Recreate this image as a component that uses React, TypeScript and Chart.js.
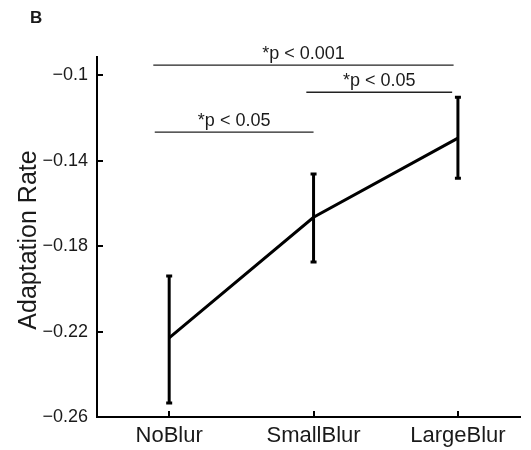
import React, { useEffect, useRef } from "react";
import { Chart, registerables } from "chart.js";

Chart.register(...registerables);

const categories = ["NoBlur", "SmallBlur", "LargeBlur"];
const categoryPositions = [0, 1, 2];
const means = [-0.223, -0.1665, -0.1295];
const errLow = [-0.2535, -0.1875, -0.1482];
const errHigh = [-0.194, -0.1463, -0.1103];
const yTicks = [-0.26, -0.22, -0.18, -0.14, -0.1];
const yTickLabels = ["\u22120.26", "\u22120.22", "\u22120.18", "\u22120.14", "\u22120.1"];

const bracketLabels = ["*p < 0.001", "*p < 0.05", "*p < 0.05"];
const bracketStart = [-0.11, 0.95, -0.1];
const bracketEnd = [1.97, 1.96, 1.0];
const bracketLevel = [-0.0953, -0.108, -0.1267];

const FONT = "'Liberation Sans', Arial, Helvetica, sans-serif";
const INK = "#1a1a1a";

const overlayPlugin = {
  id: "overlay",
  afterDatasetsDraw(chart: any) {
    const ctx = chart.ctx;
    const xs = chart.scales.x;
    const ys = chart.scales.y;
    ctx.save();
    // error bars
    ctx.strokeStyle = "#000";
    ctx.lineWidth = 3;
    ctx.lineCap = "butt";
    for (let i = 0; i < means.length; i++) {
      const px = xs.getPixelForValue(categoryPositions[i]);
      const lo = ys.getPixelForValue(errLow[i]);
      const hi = ys.getPixelForValue(errHigh[i]);
      ctx.beginPath();
      ctx.moveTo(px, lo);
      ctx.lineTo(px, hi);
      ctx.stroke();
      ctx.beginPath();
      ctx.moveTo(px - 3, lo);
      ctx.lineTo(px + 3, lo);
      ctx.moveTo(px - 3, hi);
      ctx.lineTo(px + 3, hi);
      ctx.stroke();
    }
    // brackets
    ctx.lineWidth = 1.3;
    ctx.strokeStyle = "#222";
    ctx.fillStyle = INK;
    ctx.font = `18px ${FONT}`;
    ctx.textAlign = "center";
    ctx.textBaseline = "alphabetic";
    for (let i = 0; i < bracketLabels.length; i++) {
      const x1 = xs.getPixelForValue(bracketStart[i]);
      const x2 = xs.getPixelForValue(bracketEnd[i]);
      const y = ys.getPixelForValue(bracketLevel[i]);
      ctx.beginPath();
      ctx.moveTo(x1, y);
      ctx.lineTo(x2, y);
      ctx.stroke();
      ctx.fillText(bracketLabels[i], (x1 + x2) / 2, y - 6);
    }
    ctx.restore();
  },
  afterDraw(chart: any) {
    const ctx = chart.ctx;
    const xs = chart.scales.x;
    const ys = chart.scales.y;
    const area = chart.chartArea;
    ctx.save();
    ctx.strokeStyle = "#000";
    ctx.lineWidth = 2;
    // inward ticks
    ctx.beginPath();
    for (const v of yTicks) {
      const py = Math.round(ys.getPixelForValue(v));
      ctx.moveTo(area.left, py);
      ctx.lineTo(area.left + 6, py);
    }
    for (const v of categoryPositions) {
      const px = Math.round(xs.getPixelForValue(v));
      ctx.moveTo(px, area.bottom);
      ctx.lineTo(px, area.bottom - 6);
    }
    ctx.stroke();
    // y title
    ctx.fillStyle = INK;
    ctx.font = `25px ${FONT}`;
    ctx.textAlign = "center";
    ctx.textBaseline = "middle";
    ctx.translate(29, 240);
    ctx.rotate(-Math.PI / 2);
    ctx.fillText("Adaptation Rate", 0, 0);
    ctx.restore();
    // panel letter
    ctx.save();
    ctx.fillStyle = INK;
    ctx.font = `bold 17px ${FONT}`;
    ctx.textAlign = "left";
    ctx.textBaseline = "alphabetic";
    ctx.fillText("B", 30, 23);
    ctx.restore();
  },
};

export default function App() {
  const ref = useRef<HTMLCanvasElement | null>(null);
  useEffect(() => {
    if (!ref.current) return;
    const chart = new Chart(ref.current, {
      type: "line",
      data: {
        datasets: [
          {
            label: "Adaptation Rate",
            data: means.map((m, i) => ({ x: categoryPositions[i], y: m })),
            borderColor: "#000",
            borderWidth: 3,
            pointRadius: 0,
            fill: false,
            tension: 0,
          },
        ],
      },
      options: {
        animation: false,
        responsive: false,
        devicePixelRatio: 1,
        layout: { padding: { left: 0, top: 57, right: 11, bottom: 0 } },
        plugins: { legend: { display: false }, tooltip: { enabled: false }, title: { display: false } },
        scales: {
          x: {
            type: "linear",
            min: -0.5,
            max: 2.43,
            grid: { display: false, drawTicks: false },
            border: { display: true, color: "#000", width: 2 },
            afterBuildTicks: (scale: any) => {
              scale.ticks = categoryPositions.map((v) => ({ value: v }));
            },
            afterFit: (scale: any) => {
              scale.height = 33;
            },
            ticks: {
              padding: 6,
              color: INK,
              font: { family: FONT, size: 22 },
              maxRotation: 0,
              autoSkip: false,
              callback: (v: any) => {
                const idx = categoryPositions.indexOf(Number(v));
                return idx >= 0 ? categories[idx] : "";
              },
            },
          },
          y: {
            type: "linear",
            min: -0.26,
            max: -0.0915,
            grid: { display: false, drawTicks: false },
            border: { display: true, color: "#000", width: 2 },
            afterBuildTicks: (scale: any) => {
              scale.ticks = yTicks.map((v) => ({ value: v }));
            },
            afterFit: (scale: any) => {
              scale.width = 97;
            },
            ticks: {
              padding: 9,
              color: INK,
              font: { family: FONT, size: 18 },
              autoSkip: false,
              callback: (v: any) => {
                const idx = yTicks.findIndex((t) => Math.abs(t - Number(v)) < 1e-9);
                return idx >= 0 ? yTickLabels[idx] : "";
              },
            },
          },
        },
      },
      plugins: [overlayPlugin],
    });
    return () => chart.destroy();
  }, []);
  return (
    <div style={{ position: "fixed", left: 0, top: 0, width: 531, height: 450, background: "#fff" }}>
      <canvas ref={ref} width={531} height={450} style={{ display: "block" }} />
    </div>
  );
}
